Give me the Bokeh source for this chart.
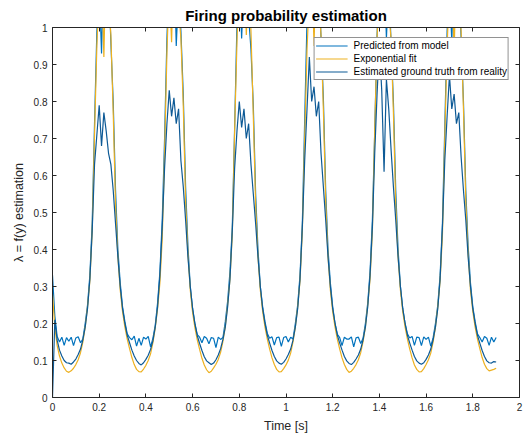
from bokeh.plotting import figure
from bokeh.models import (LinearAxis, Range1d, FixedTicker, NumeralTickFormatter,
                          Legend, LegendItem)
from bokeh.embed import file_html
from bokeh.resources import INLINE

# sample times [s] (0.00 ... 1.90, step 0.01)
time_s = [round(0.01 * i, 2) for i in range(191)]

predicted = [
    # 0.00 - 0.06
    0.33, 0.22, 0.165, 0.150, 0.163, 0.141, 0.162,
    # 0.07 - 0.36
    0.152, 0.163, 0.140, 0.161, 0.164, 0.148, 0.158, 0.20, 0.25, 0.33,
    0.47, 0.74, 0.99, 1.12, 0.93, 1.18, 1.04, 1.14, 0.96, 0.80,
    0.56, 0.40, 0.31, 0.245, 0.205, 0.172, 0.162, 0.156, 0.166, 0.139,
    # 0.37 - 0.66
    0.160, 0.141, 0.163, 0.158, 0.165, 0.137, 0.160, 0.195, 0.255, 0.34,
    0.48, 0.70, 0.97, 1.15, 1.02, 1.20, 0.95, 1.10, 0.99, 0.82,
    0.57, 0.41, 0.30, 0.24, 0.20, 0.170, 0.163, 0.148, 0.165, 0.160,
    # 0.67 - 0.96
    0.145, 0.162, 0.160, 0.135, 0.163, 0.157, 0.162, 0.205, 0.26, 0.34,
    0.46, 0.73, 1.01, 1.16, 0.97, 1.13, 1.19, 1.03, 0.94, 0.79,
    0.55, 0.40, 0.30, 0.245, 0.205, 0.173, 0.160, 0.164, 0.142, 0.162,
    # 0.97 - 1.26
    0.163, 0.138, 0.162, 0.165, 0.150, 0.163, 0.158, 0.20, 0.25, 0.33,
    0.47, 0.75, 1.02, 1.18, 1.06, 1.21, 1.00, 1.15, 0.97, 0.81,
    0.56, 0.40, 0.31, 0.245, 0.20, 0.171, 0.162, 0.140, 0.163, 0.158,
    # 1.27 - 1.56
    0.158, 0.164, 0.137, 0.161, 0.163, 0.146, 0.160, 0.20, 0.255, 0.34,
    0.48, 0.72, 0.98, 1.14, 1.01, 1.19, 0.97, 1.12, 0.96, 0.80,
    0.56, 0.40, 0.30, 0.24, 0.20, 0.172, 0.161, 0.165, 0.141, 0.163,
    # 1.57 - 1.86
    0.162, 0.140, 0.164, 0.157, 0.163, 0.139, 0.161, 0.20, 0.25, 0.33,
    0.47, 0.73, 0.99, 1.13, 0.96, 1.17, 1.05, 1.13, 0.97, 0.80,
    0.56, 0.41, 0.31, 0.245, 0.205, 0.172, 0.162, 0.150, 0.165, 0.160,
    # 1.87 - 1.90
    0.141, 0.163, 0.150, 0.162,
]

exponential_fit = [
    0.28, 0.19, 0.14, 0.112, 0.093, 0.080, 0.071,
    0.068, 0.072, 0.079, 0.089, 0.102, 0.121, 0.150, 0.19, 0.245, 0.315,
    0.45, 0.71, 0.95, 1.10, 1.17, 0.92, 1.21, 1.08, 0.98, 0.77,
    0.52, 0.38, 0.29, 0.232, 0.19, 0.158, 0.132, 0.108, 0.089, 0.076,
    0.070, 0.069, 0.077, 0.087, 0.100, 0.118, 0.148, 0.188, 0.24, 0.31,
    0.43, 0.66, 0.93, 1.12, 0.96, 1.22, 1.14, 1.05, 0.97, 0.79,
    0.53, 0.39, 0.29, 0.23, 0.188, 0.156, 0.130, 0.106, 0.088, 0.075,
    0.067, 0.071, 0.080, 0.090, 0.103, 0.122, 0.152, 0.192, 0.25, 0.32,
    0.44, 0.72, 0.96, 1.14, 1.05, 1.20, 0.98, 1.12, 0.99, 0.76,
    0.52, 0.38, 0.29, 0.233, 0.19, 0.158, 0.131, 0.107, 0.089, 0.076,
    0.069, 0.070, 0.078, 0.088, 0.101, 0.120, 0.150, 0.19, 0.245, 0.315,
    0.45, 0.70, 0.94, 1.09, 1.18, 0.95, 1.20, 1.07, 0.98, 0.78,
    0.53, 0.38, 0.29, 0.232, 0.19, 0.157, 0.131, 0.107, 0.089, 0.076,
    0.068, 0.071, 0.079, 0.089, 0.102, 0.121, 0.151, 0.19, 0.25, 0.32,
    0.45, 0.72, 0.97, 1.13, 1.02, 1.19, 1.10, 1.04, 0.97, 0.77,
    0.52, 0.38, 0.29, 0.232, 0.19, 0.158, 0.131, 0.107, 0.088, 0.076,
    0.069, 0.070, 0.078, 0.089, 0.102, 0.120, 0.150, 0.19, 0.245, 0.315,
    0.44, 0.70, 0.95, 1.11, 1.16, 0.93, 1.19, 1.07, 0.99, 0.78,
    0.53, 0.39, 0.29, 0.233, 0.19, 0.158, 0.132, 0.108, 0.090, 0.078,
    0.072, 0.074, 0.076, 0.079,
]

ground_truth = [
    0.0, 0.21, 0.155, 0.128, 0.112, 0.100, 0.094,
    0.093, 0.090, 0.096, 0.104, 0.116, 0.131, 0.156, 0.19, 0.24, 0.32,
    0.45, 0.63, 0.71, 0.79, 0.68, 0.77, 0.72, 0.66, 0.63, 0.56,
    0.47, 0.38, 0.30, 0.24, 0.20, 0.168, 0.148, 0.128, 0.112, 0.100,
    0.092, 0.088, 0.094, 0.103, 0.114, 0.130, 0.153, 0.19, 0.245, 0.33,
    0.46, 0.62, 0.74, 0.83, 0.76, 0.81, 0.74, 0.78, 0.64, 0.57,
    0.48, 0.38, 0.30, 0.24, 0.198, 0.167, 0.146, 0.127, 0.110, 0.099,
    0.094, 0.089, 0.093, 0.102, 0.115, 0.132, 0.157, 0.19, 0.245, 0.32,
    0.45, 0.62, 0.72, 0.80, 0.73, 0.78, 0.70, 0.74, 0.63, 0.55,
    0.47, 0.38, 0.30, 0.24, 0.20, 0.168, 0.147, 0.127, 0.111, 0.099,
    0.093, 0.090, 0.095, 0.104, 0.116, 0.131, 0.155, 0.19, 0.24, 0.32,
    0.46, 0.64, 0.78, 0.92, 0.80, 0.84, 0.76, 0.80, 0.66, 0.57,
    0.48, 0.38, 0.30, 0.24, 0.20, 0.168, 0.147, 0.128, 0.111, 0.099,
    0.092, 0.089, 0.095, 0.104, 0.115, 0.131, 0.156, 0.19, 0.245, 0.33,
    0.46, 0.66, 0.82, 0.95, 0.83, 0.61, 0.86, 0.78, 0.67, 0.57,
    0.48, 0.38, 0.30, 0.24, 0.20, 0.168, 0.147, 0.128, 0.111, 0.099,
    0.093, 0.090, 0.094, 0.103, 0.115, 0.131, 0.156, 0.19, 0.24, 0.32,
    0.46, 0.64, 0.76, 0.87, 0.78, 0.82, 0.74, 0.77, 0.65, 0.56,
    0.48, 0.38, 0.30, 0.24, 0.20, 0.168, 0.147, 0.127, 0.111, 0.099,
    0.094, 0.093, 0.097, 0.096,
]

series_labels = ["Predicted from model", "Exponential fit",
                 "Estimated ground truth from reality"]
series_colors = ["#0072BD", "#EDB120", "#0d5a96"]

x_ticks = [0, 0.2, 0.4, 0.6, 0.8, 1, 1.2, 1.4, 1.6, 1.8, 2]
y_ticks = [0, 0.1, 0.2, 0.3, 0.4, 0.5, 0.6, 0.7, 0.8, 0.9, 1]

FONT = "Liberation Sans"
AX = "#262626"

p = figure(width=523, height=435, output_backend="svg", toolbar_location=None,
           x_range=Range1d(0, 2), y_range=Range1d(0, 1),
           min_border_left=52, min_border_right=4, min_border_top=27,
           min_border_bottom=37, title="Firing probability estimation")
p.background_fill_color = "white"
p.border_fill_color = "white"
p.outline_line_color = None
p.xgrid.visible = False
p.ygrid.visible = False

p.title.align = "center"
p.title.text_font = FONT
p.title.text_font_size = "15px"
p.title.text_font_style = "bold"
p.title.text_color = "black"
p.title.standoff = 7

renderers = []
for ys, col in zip([predicted, exponential_fit, ground_truth], series_colors):
    r = p.line(time_s, ys, line_color=col, line_width=1.2)
    renderers.append(r)


def style_axis(ax, ticks, labels=True):
    ax.ticker = FixedTicker(ticks=ticks)
    ax.formatter = NumeralTickFormatter(format="0.[0]")
    ax.axis_line_color = AX
    ax.axis_line_width = 1
    ax.major_tick_line_color = AX
    ax.major_tick_in = 4
    ax.major_tick_out = 0
    ax.minor_tick_line_color = None
    ax.major_label_text_font = FONT
    if labels:
        ax.major_label_text_color = AX
        ax.major_label_text_font_size = "10px"
        ax.major_label_standoff = 5
    else:
        ax.major_label_text_color = None
        ax.major_label_text_font_size = "1px"
        ax.major_label_standoff = 0


style_axis(p.xaxis[0], x_ticks)
style_axis(p.yaxis[0], y_ticks)
p.xaxis[0].axis_label = "Time [s]"
p.yaxis[0].axis_label = "λ = f(y) estimation"
for ax in (p.xaxis[0], p.yaxis[0]):
    ax.axis_label_text_font = FONT
    ax.axis_label_text_font_size = "12.5px"
    ax.axis_label_text_font_style = "normal"
    ax.axis_label_text_color = AX
    ax.axis_label_standoff = 5

top_ax = LinearAxis()
right_ax = LinearAxis()
style_axis(top_ax, x_ticks, labels=False)
style_axis(right_ax, y_ticks, labels=False)
p.add_layout(top_ax, "above")
p.add_layout(right_ax, "right")

legend = Legend(items=[LegendItem(label=lab, renderers=[r])
                       for lab, r in zip(series_labels, renderers)],
                location="top_right")
legend.margin = 10
legend.padding = 1
legend.spacing = 0
legend.glyph_width = 32
legend.glyph_height = 13
legend.label_height = 13
legend.label_standoff = 6
legend.label_text_font = FONT
legend.label_text_font_size = "10px"
legend.label_text_color = "black"
legend.border_line_color = AX
legend.border_line_width = 1
legend.background_fill_color = "white"
legend.background_fill_alpha = 1
p.add_layout(legend)

open("out.html", "w").write(file_html(p, INLINE))
